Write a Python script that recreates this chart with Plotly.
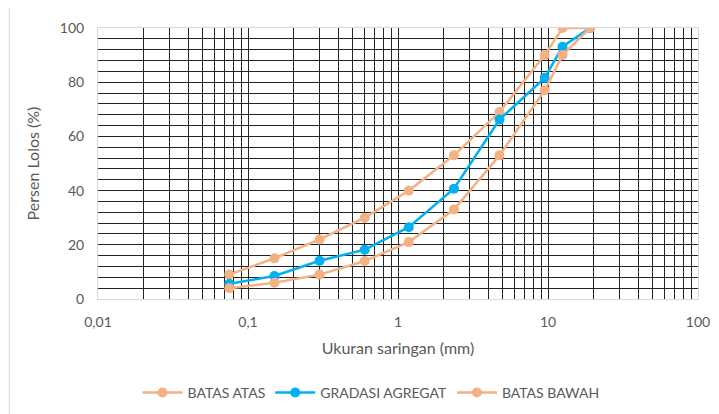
import plotly.graph_objects as go

sieve_mm = [0.075, 0.15, 0.3, 0.6, 1.18, 2.36, 4.75, 9.5, 12.5, 19]
batas_atas = [9, 15, 22, 30, 40, 53, 69, 90, 100, 100]
gradasi = [5.6, 8.5, 14.1, 18.2, 26.5, 40.7, 66.2, 81.6, 93.1, 100]
batas_bawah = [4, 6, 9, 14, 21, 33, 53, 77, 90, 100]

x_grid = [m * 10 ** e for e in range(-2, 2) for m in range(1, 10)] + [100]
x_labels = {0.01: "0,01", 0.1: "0,1", 1: "1", 10: "10", 100: "100"}
x_text = [x_labels.get(round(v, 6), "") for v in x_grid]
y_grid = list(range(0, 101, 4))
y_text = [str(v) if v % 20 == 0 else "" for v in y_grid]

orange = "#F4B183"
blue = "#00B0F0"
font = "Lato, Open Sans, sans-serif"
grey = "#595959"

fig = go.Figure()
fig.add_trace(go.Scatter(x=sieve_mm, y=batas_atas, name="BATAS ATAS", mode="lines+markers",
                         line=dict(color=orange, width=2.5), marker=dict(size=10, color=orange)))
fig.add_trace(go.Scatter(x=sieve_mm, y=gradasi, name="GRADASI AGREGAT", mode="lines+markers",
                         line=dict(color=blue, width=2.5), marker=dict(size=10, color=blue)))
fig.add_trace(go.Scatter(x=sieve_mm, y=batas_bawah, name="BATAS BAWAH", mode="lines+markers",
                         line=dict(color=orange, width=2.5), marker=dict(size=10, color=orange)))

# page body has an 8px default margin, so the figure is sized/offset accordingly
fig.update_layout(
    width=711, height=406,
    margin=dict(l=90, r=21, t=20, b=115, autoexpand=False),
    paper_bgcolor="white", plot_bgcolor="white",
    font=dict(family=font, size=14, color=grey),
    showlegend=True,
    legend=dict(orientation="h", x=0.455, xanchor="center", yref="container", y=0.052, yanchor="middle",
                font=dict(size=14, color=grey), itemwidth=40, tracegroupgap=0),
    xaxis=dict(type="log", range=[-2, 2], tickvals=x_grid, ticktext=x_text,
               showgrid=True, gridcolor="#222222", gridwidth=1, zeroline=False,
               showline=True, linecolor="#D9D9D9", mirror=True, ticks="",
               automargin=False, ticklabelstandoff=10,
               title=dict(text="Ukuran saringan (mm)", font=dict(size=16, color=grey), standoff=14),
               tickfont=dict(size=14, color=grey)),
    yaxis=dict(range=[0, 100], tickvals=y_grid, ticktext=y_text,
               showgrid=True, gridcolor="#222222", gridwidth=1, zeroline=False,
               showline=True, linecolor="#D9D9D9", mirror=True, ticks="",
               automargin=False, ticklabelstandoff=10,
               title=dict(text="Persen Lolos (%)", font=dict(size=16, color=grey), standoff=16),
               tickfont=dict(size=14, color=grey)),
)

fig.add_shape(type="line", xref="paper", yref="paper", x0=-0.148, x1=-0.148, y0=-0.424, y1=1.074,
              line=dict(color="#D9D9D9", width=1))

fig.write_html("out.html")
